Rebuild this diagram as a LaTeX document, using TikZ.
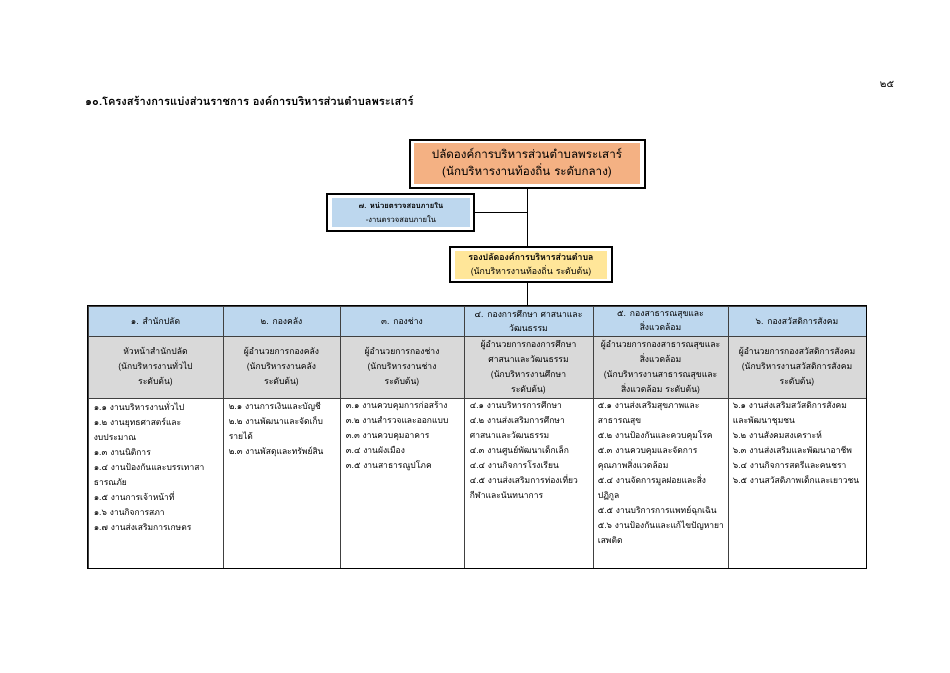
\documentclass[tikz,border=0pt]{standalone}
\usepackage{fontspec}
\newfontfamily\thai[Script=Thai]{Loma}
\definecolor{orangefill}{HTML}{F4B183}
\definecolor{bluefill}{HTML}{BDD7EE}
\definecolor{yellowfill}{HTML}{FFE699}
\definecolor{grayfill}{HTML}{D9D9D9}
\definecolor{gridline}{HTML}{404040}
\begin{document}
\begin{tikzpicture}[x=1pt,y=-1pt,
  outerbox/.style={draw=black, line width=1.1pt, inner sep=0pt, fill=white},
  innerbox/.style={inner sep=0pt, align=center},
  hdrcell/.style={draw=gridline, line width=0.7pt, fill=bluefill, inner sep=0pt, minimum height=30pt, align=center, font=\thai\fontsize{8.6}{14}\selectfont},
  graycell/.style={draw=gridline, line width=0.7pt, fill=grayfill, inner sep=0pt, minimum height=62pt, align=center, font=\thai\fontsize{8.6}{15}\selectfont},
  bodycell/.style={draw=gridline, line width=0.7pt, fill=white, inner sep=0pt, minimum height=170pt},
  bodytext/.style={anchor=north west, inner sep=0pt, align=left, font=\thai\fontsize{8.5}{15}\selectfont},
  link/.style={draw=black, line width=0.9pt}
]
\useasboundingbox (0,0) rectangle (950,672);
\fill[white] (0,0) rectangle (950,672);

% title and page number
\node[anchor=west, inner sep=0pt, font=\thai\bfseries\fontsize{11.1}{14}\selectfont] (title) at (85,101) {๑๐.โครงสร้างการแบ่งส่วนราชการ องค์การบริหารส่วนตำบลพระเสาร์};
\node[inner sep=0pt, font=\thai\fontsize{10}{12}\selectfont] (pageno) at (887,84) {๒๕};

% top box
\node[outerbox, minimum width=235pt, minimum height=48pt] (topout) at (527.5,164) {};
\node[innerbox, fill=orangefill, minimum width=226pt, minimum height=41pt, font=\thai\fontsize{11.6}{17}\selectfont] (top) at (527,163.5) {ปลัดองค์การบริหารส่วนตำบลพระเสาร์\\(นักบริหารงานท้องถิ่น ระดับกลาง)};

% audit box
\node[outerbox, minimum width=147pt, minimum height=37pt] (audout) at (400.5,212.5) {};
\node[innerbox, fill=bluefill, minimum width=138pt, minimum height=29pt, font=\thai\fontsize{7.6}{14}\selectfont] (aud) at (401,212.5) {\textbf{๗. หน่วยตรวจสอบภายใน}\\-งานตรวจสอบภายใน};

% deputy box
\node[outerbox, minimum width=162pt, minimum height=35pt] (depout) at (531,264.5) {};
\node[innerbox, fill=yellowfill, minimum width=152pt, minimum height=28pt, font=\thai\fontsize{8.8}{14}\selectfont] (dep) at (531,264.5) {\textbf{รองปลัดองค์การบริหารส่วนตำบล}\\(นักบริหารงานท้องถิ่น ระดับต้น)};

% header row
\node[hdrcell, minimum width=135pt] (h1) at (155.5,321) {๑. สำนักปลัด};
\node[hdrcell, minimum width=117pt] (h2) at (281.5,321) {๒. กองคลัง};
\node[hdrcell, minimum width=124pt] (h3) at (402,321) {๓. กองช่าง};
\node[hdrcell, minimum width=129pt] (h4) at (528.5,321) {๔. กองการศึกษา ศาสนาและ\\วัฒนธรรม};
\node[hdrcell, minimum width=135pt] (h5) at (660.5,321) {๕. กองสาธารณสุขและ\\สิ่งแวดล้อม};
\node[hdrcell, minimum width=138pt] (h6) at (797,321) {๖. กองสวัสดิการสังคม};

% second row
\node[graycell, minimum width=135pt] (g1) at (155.5,367) {หัวหน้าสำนักปลัด\\(นักบริหารงานทั่วไป\\ระดับต้น)};
\node[graycell, minimum width=117pt] (g2) at (281.5,367) {ผู้อำนวยการกองคลัง\\(นักบริหารงานคลัง\\ระดับต้น)};
\node[graycell, minimum width=124pt] (g3) at (402,367) {ผู้อำนวยการกองช่าง\\(นักบริหารงานช่าง\\ระดับต้น)};
\node[graycell, minimum width=129pt] (g4) at (528.5,367) {ผู้อำนวยการกองการศึกษา\\ศาสนาและวัฒนธรรม\\(นักบริหารงานศึกษา\\ระดับต้น)};
\node[graycell, minimum width=135pt] (g5) at (660.5,367) {ผู้อำนวยการกองสาธารณสุขและ\\สิ่งแวดล้อม\\(นักบริหารงานสาธารณสุขและ\\สิ่งแวดล้อม ระดับต้น)};
\node[graycell, minimum width=138pt] (g6) at (797,367) {ผู้อำนวยการกองสวัสดิการสังคม\\(นักบริหารงานสวัสดิการสังคม\\ระดับต้น)};

% body cells
\node[bodycell, minimum width=135pt] (b1) at (155.5,483) {};
\node[bodycell, minimum width=117pt] (b2) at (281.5,483) {};
\node[bodycell, minimum width=124pt] (b3) at (402,483) {};
\node[bodycell, minimum width=129pt] (b4) at (528.5,483) {};
\node[bodycell, minimum width=135pt] (b5) at (660.5,483) {};
\node[bodycell, minimum width=138pt] (b6) at (797,483) {};

\node[bodytext] (t1) at ([xshift=6pt,yshift=-4pt]b1.north west) {๑.๑ งานบริหารงานทั่วไป\\๑.๒ งานยุทธศาสตร์และ\\งบประมาณ\\๑.๓ งานนิติการ\\๑.๔ งานป้องกันและบรรเทาสา\\ธารณภัย\\๑.๕ งานการเจ้าหน้าที่\\๑.๖ งานกิจการสภา\\๑.๗ งานส่งเสริมการเกษตร};
\node[bodytext] (t2) at ([xshift=6pt,yshift=-4pt]b2.north west) {๒.๑ งานการเงินและบัญชี\\๒.๒ งานพัฒนาและจัดเก็บ\\รายได้\\๒.๓ งานพัสดุและทรัพย์สิน};
\node[bodytext] (t3) at ([xshift=6pt,yshift=-4pt]b3.north west) {๓.๑ งานควบคุมการก่อสร้าง\\๓.๒ งานสำรวจและออกแบบ\\๓.๓ งานควบคุมอาคาร\\๓.๔ งานผังเมือง\\๓.๕ งานสาธารณูปโภค};
\node[bodytext] (t4) at ([xshift=6pt,yshift=-4pt]b4.north west) {๔.๑ งานบริหารการศึกษา\\๔.๒ งานส่งเสริมการศึกษา\\ศาสนาและวัฒนธรรม\\๔.๓ งานศูนย์พัฒนาเด็กเล็ก\\๔.๔ งานกิจการโรงเรียน\\๔.๕ งานส่งเสริมการท่องเที่ยว\\กีฬาและนันทนาการ};
\node[bodytext] (t5) at ([xshift=5pt,yshift=-4pt]b5.north west) {๕.๑ งานส่งเสริมสุขภาพและ\\สาธารณสุข\\๕.๒ งานป้องกันและควบคุมโรค\\๕.๓ งานควบคุมและจัดการ\\คุณภาพสิ่งแวดล้อม\\๕.๔ งานจัดการมูลฝอยและสิ่ง\\ปฏิกูล\\๕.๕ งานบริการการแพทย์ฉุกเฉิน\\๕.๖ งานป้องกันและแก้ไขปัญหายา\\เสพติด};
\node[bodytext] (t6) at ([xshift=5pt,yshift=-4pt]b6.north west) {๖.๑ งานส่งเสริมสวัสดิการสังคม\\และพัฒนาชุมชน\\๖.๒ งานสังคมสงเคราะห์\\๖.๓ งานส่งเสริมและพัฒนาอาชีพ\\๖.๔ งานกิจการสตรีและคนชรา\\๖.๕ งานสวัสดิภาพเด็กและเยาวชน};

% table outline
\draw[black, line width=1pt] (h1.north west) rectangle (b6.south east);

% connectors
\draw[link] (topout.south) -- (topout.south |- depout.north);
\draw[link] (topout.south |- depout.south) -- (topout.south |- h4.north);
\draw[link] (audout.east) -- (audout.east -| topout.south);
\end{tikzpicture}
\end{document}
